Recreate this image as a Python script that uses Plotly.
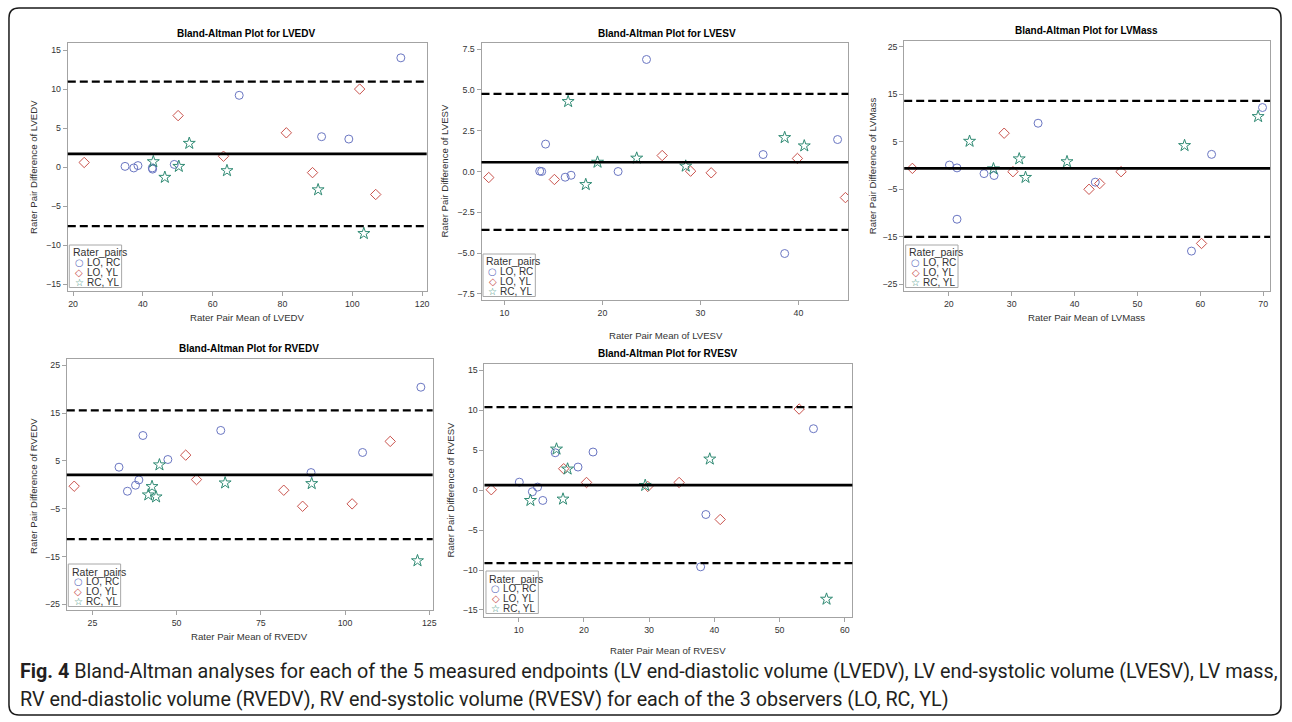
import plotly.graph_objects as go

W, H = 1292, 722

# ---------------- data ----------------
lvedv_lorc_x = [34.9, 37.4, 38.6, 42.7, 42.8, 49.0, 67.6, 91.2, 99.0, 113.9]
lvedv_lorc_y = [0.1, -0.1, 0.2, -0.1, -0.25, 0.35, 9.2, 3.9, 3.6, 14.0]
lvedv_loyl_x = [23.2, 50.1, 63.1, 81.1, 88.6, 102.1, 106.7]
lvedv_loyl_y = [0.6, 6.6, 1.4, 4.4, -0.7, 10.0, -3.5]
lvedv_rcyl_x = [43.0, 46.3, 50.3, 53.3, 64.1, 90.2, 103.3]
lvedv_rcyl_y = [0.7, -1.3, 0.1, 3.05, -0.45, -2.9, -8.5]
lvedv_stats = [1.7, -7.55, 10.95]  # mean, lower LoA, upper LoA

lvesv_lorc_x = [13.6, 13.8, 14.2, 16.2, 16.8, 21.6, 24.5, 36.4, 38.6, 44.0]
lvesv_lorc_y = [0.02, 0.0, 1.68, -0.35, -0.23, 0.0, 6.87, 1.04, -5.03, 1.96]
lvesv_loyl_x = [8.4, 15.1, 26.1, 29.0, 31.1, 39.9, 44.8]
lvesv_loyl_y = [-0.37, -0.49, 0.98, 0.02, -0.08, 0.8, -1.6]
lvesv_rcyl_x = [16.5, 18.3, 19.5, 23.5, 28.5, 38.6, 40.6]
lvesv_rcyl_y = [4.29, -0.80, 0.57, 0.82, 0.33, 2.08, 1.57]
lvesv_stats = [0.57, -3.58, 4.76]

lvmass_lorc_x = [20.1, 21.3, 21.3, 25.6, 27.2, 34.2, 43.3, 58.6, 61.8, 69.9]
lvmass_lorc_y = [0.1, -0.5, -11.3, -1.7, -2.1, 8.9, -3.5, -18.0, 2.35, 12.2]
lvmass_loyl_x = [14.2, 28.8, 30.2, 42.3, 44.0, 47.4, 60.2]
lvmass_loyl_y = [-0.6, 6.8, -1.3, -5.0, -3.8, -1.3, -16.4]
lvmass_rcyl_x = [23.3, 27.1, 31.2, 32.2, 38.8, 57.5, 69.2]
lvmass_rcyl_y = [5.1, -0.7, 1.4, -2.5, 0.8, 4.2, 10.3]
lvmass_stats = [-0.6, -15.0, 13.6]

rvedv_lorc_x = [32.9, 35.4, 37.8, 38.8, 40.0, 47.4, 63.1, 89.9, 105.2, 122.5]
rvedv_lorc_y = [3.67, -1.36, -0.1, 1.0, 10.3, 5.28, 11.36, 2.55, 6.75, 20.4]
rvedv_loyl_x = [19.6, 52.7, 55.9, 81.8, 87.4, 102.1, 113.4]
rvedv_loyl_y = [-0.31, 6.19, 1.08, -1.15, -4.5, -4.0, 9.06]
rvedv_rcyl_x = [41.6, 42.7, 43.9, 44.9, 64.4, 90.1, 121.5]
rvedv_rcyl_y = [-2.13, -0.38, -2.55, 4.16, 0.38, 0.24, -15.9]
rvedv_stats = [2.06, -11.36, 15.56]

rvesv_lorc_x = [10.1, 12.1, 12.9, 13.7, 15.6, 19.1, 21.4, 38.7, 37.9, 55.2]
rvesv_lorc_y = [1.0, -0.2, 0.38, -1.29, 4.68, 2.89, 4.77, -3.05, -9.6, 7.69]
rvesv_loyl_x = [5.8, 16.9, 20.4, 29.8, 34.6, 40.9, 53.0]
rvesv_loyl_y = [0.05, 2.68, 0.96, 0.46, 0.96, -3.67, 10.15]
rvesv_rcyl_x = [11.8, 15.8, 16.8, 17.5, 29.4, 39.3, 57.2]
rvesv_rcyl_y = [-1.29, 5.14, -1.12, 2.64, 0.59, 3.89, -13.65]
rvesv_stats = [0.63, -9.14, 10.4]

pair_names = ["LO, RC", "LO, YL", "RC, YL"]
endpoints = ["LVEDV", "LVESV", "LVMass", "RVEDV", "RVESV"]

x_ticks = [[20, 40, 60, 80, 100, 120], [10, 20, 30, 40], [20, 30, 40, 50, 60, 70],
           [25, 50, 75, 100, 125], [10, 20, 30, 40, 50, 60]]
y_ticks = [[-15, -10, -5, 0, 5, 10, 15], [-7.5, -5, -2.5, 0, 2.5, 5, 7.5],
           [-25, -15, -5, 5, 15, 25], [-25, -15, -5, 5, 15, 25],
           [-15, -10, -5, 0, 5, 10, 15]]

# ---------------- layout / style ----------------
series = [
    [(lvedv_lorc_x, lvedv_lorc_y), (lvedv_loyl_x, lvedv_loyl_y), (lvedv_rcyl_x, lvedv_rcyl_y)],
    [(lvesv_lorc_x, lvesv_lorc_y), (lvesv_loyl_x, lvesv_loyl_y), (lvesv_rcyl_x, lvesv_rcyl_y)],
    [(lvmass_lorc_x, lvmass_lorc_y), (lvmass_loyl_x, lvmass_loyl_y), (lvmass_rcyl_x, lvmass_rcyl_y)],
    [(rvedv_lorc_x, rvedv_lorc_y), (rvedv_loyl_x, rvedv_loyl_y), (rvedv_rcyl_x, rvedv_rcyl_y)],
    [(rvesv_lorc_x, rvesv_lorc_y), (rvesv_loyl_x, rvesv_loyl_y), (rvesv_rcyl_x, rvesv_rcyl_y)],
]
stats = [lvedv_stats, lvesv_stats, lvmass_stats, rvedv_stats, rvesv_stats]

# plot boxes in pixels (left, top, right, bottom)
boxes = [(68, 43, 428, 291), (483, 43, 851, 300), (907, 41, 1274, 291),
         (67, 359, 434, 610), (486, 364, 855, 617)]
x_ranges = [[18.5, 121.3], [7.66, 45.1], [12.9, 71.1], [17.4, 126.0], [4.76, 61.16]]
y_ranges = [[-15.86, 15.9], [-7.88, 7.88], [-26.4, 26.2], [-26.2, 26.3], [-15.88, 15.79]]
title_pos = [(247, 34), (669, 34), (1090, 30), (250, 348), (670, 353)]
xtitle_pos = [(248, 317), (668, 335), (1090, 317), (250, 636), (670, 650)]
ytitle_pos = [(33, 167), (446, 171), (875, 166), (33, 486), (452, 490)]
y_fmt = [None, ".1f", None, None, None]

colors = ["#6a76c2", "#c9524c", "#2f8a73"]
symbols = ["circle-open", "diamond-open", "star-open"]
sizes = [8, 8, 9]
glyphs = ["○", "◇", "☆"]

AXIS_GRAY = "#a3a3a3"
TXT = "#333333"
FONT = "Liberation Sans, Arial, sans-serif"


def px(x):
    return x / W


def py(y):
    return 1 - y / H


fig = go.Figure()
shapes = []
annotations = []

for i in range(5):
    n = i + 1
    xa = "x" if n == 1 else f"x{n}"
    ya = "y" if n == 1 else f"y{n}"
    l, t, r, b = boxes[i]
    for k in range(3):
        xs, ys = series[i][k]
        fig.add_trace(go.Scatter(
            x=xs, y=ys, mode="markers", xaxis=xa, yaxis=ya, name=pair_names[k],
            showlegend=False,
            marker=dict(symbol=symbols[k], size=sizes[k], color=colors[k],
                        line=dict(width=1, color=colors[k])),
        ))
    fig.layout[f"xaxis{n}"] = dict(
        domain=[px(l), px(r)], range=x_ranges[i], anchor=ya,
        showline=True, mirror=True, linecolor=AXIS_GRAY, linewidth=1,
        ticks="outside", ticklen=4, tickcolor=AXIS_GRAY, tickwidth=1,
        tickvals=x_ticks[i], showgrid=False, zeroline=False,
        tickfont=dict(size=8.8, color=TXT, family=FONT),
    )
    ydict = dict(
        domain=[py(b), py(t)], range=y_ranges[i], anchor=xa,
        showline=True, mirror=True, linecolor=AXIS_GRAY, linewidth=1,
        ticks="outside", ticklen=4, tickcolor=AXIS_GRAY, tickwidth=1,
        tickvals=y_ticks[i], showgrid=False, zeroline=False,
        tickfont=dict(size=8.8, color=TXT, family=FONT),
    )
    if y_fmt[i]:
        ydict["tickformat"] = y_fmt[i]
    fig.layout[f"yaxis{n}"] = ydict

    mean, lo, hi = stats[i]
    xref_dom = f"{xa} domain"
    shapes.append(dict(type="line", xref=xref_dom, yref=ya, x0=0, x1=1, y0=mean, y1=mean,
                       line=dict(color="black", width=2.6)))
    for v in (lo, hi):
        shapes.append(dict(type="line", xref=xref_dom, yref=ya, x0=0, x1=1, y0=v, y1=v,
                           line=dict(color="black", width=2.2, dash="8px,4px")))

    # titles
    tx, ty = title_pos[i]
    annotations.append(dict(x=px(tx), y=py(ty), xref="paper", yref="paper", showarrow=False,
                            text=f"<b>Bland-Altman Plot for {endpoints[i]}</b>",
                            font=dict(size=10, color="black", family=FONT),
                            xanchor="center", yanchor="middle"))
    tx, ty = xtitle_pos[i]
    annotations.append(dict(x=px(tx), y=py(ty), xref="paper", yref="paper", showarrow=False,
                            text=f"Rater Pair Mean of {endpoints[i]}",
                            font=dict(size=9.6, color=TXT, family=FONT),
                            xanchor="center", yanchor="middle"))
    tx, ty = ytitle_pos[i]
    annotations.append(dict(x=px(tx), y=py(ty), xref="paper", yref="paper", showarrow=False,
                            text=f"Rater Pair Difference of {endpoints[i]}", textangle=-90,
                            font=dict(size=9.6, color=TXT, family=FONT),
                            xanchor="center", yanchor="middle"))

    # compact in-plot legend (SAS style)
    bx0, bx1 = l + 1.5, l + 54
    by0, by1 = b - 46, b - 3.5
    shapes.append(dict(type="rect", xref="paper", yref="paper",
                       x0=px(bx0), x1=px(bx1), y0=py(by1), y1=py(by0),
                       line=dict(color="#a8a8a8", width=1), fillcolor="white", layer="above"))
    annotations.append(dict(x=px(l + 3), y=py(b - 38.5), xref="paper", yref="paper",
                            showarrow=False, text="Rater_pairs", xanchor="left", yanchor="middle",
                            font=dict(size=10.5, color=TXT, family=FONT)))
    for k in range(3):
        yy = b - 28.5 + k * 10.2
        annotations.append(dict(x=px(l + 11.5), y=py(yy), xref="paper", yref="paper",
                                showarrow=False, text=glyphs[k], xanchor="center", yanchor="middle",
                                font=dict(size=10, color=colors[k], family="DejaVu Sans")))
        annotations.append(dict(x=px(l + 17), y=py(yy), xref="paper", yref="paper",
                                showarrow=False, text=pair_names[k], xanchor="left", yanchor="middle",
                                font=dict(size=10, color=TXT, family=FONT)))

# outer rounded frame
fx0, fy0, fx1, fy1, rr = 9, 8, 1285, 715, 10
path = (f"M {px(fx0 + rr)},{py(fy0)} L {px(fx1 - rr)},{py(fy0)} "
        f"Q {px(fx1)},{py(fy0)} {px(fx1)},{py(fy0 + rr)} "
        f"L {px(fx1)},{py(fy1 - rr)} Q {px(fx1)},{py(fy1)} {px(fx1 - rr)},{py(fy1)} "
        f"L {px(fx0 + rr)},{py(fy1)} Q {px(fx0)},{py(fy1)} {px(fx0)},{py(fy1 - rr)} "
        f"L {px(fx0)},{py(fy0 + rr)} Q {px(fx0)},{py(fy0)} {px(fx0 + rr)},{py(fy0)} Z")
shapes.append(dict(type="path", xref="paper", yref="paper", path=path,
                   line=dict(color="#1a1a1a", width=1.5)))

# caption
cap_font = dict(size=19.75, color="#231f20", family="Roboto, sans-serif")
annotations.append(dict(x=px(18), y=py(671), xref="paper", yref="paper", showarrow=False,
                        xanchor="left", yanchor="middle", font=cap_font,
                        text="<b>Fig. 4</b> Bland-Altman analyses for each of the 5 measured endpoints "
                             "(LV end-diastolic volume (LVEDV), LV end-systolic volume (LVESV), LV mass,"))
annotations.append(dict(x=px(18), y=py(699), xref="paper", yref="paper", showarrow=False,
                        xanchor="left", yanchor="middle", font=cap_font,
                        text="RV end-diastolic volume (RVEDV), RV end-systolic volume (RVESV) "
                             "for each of the 3 observers (LO, RC, YL)"))

fig.update_layout(
    width=W, height=H, margin=dict(l=0, r=0, t=0, b=0),
    paper_bgcolor="white", plot_bgcolor="white",
    shapes=shapes, annotations=annotations, showlegend=False,
)

fig.write_html("out.html", config={"displayModeBar": False},
               post_script="document.body.style.margin='0';document.body.style.overflow='hidden';")
